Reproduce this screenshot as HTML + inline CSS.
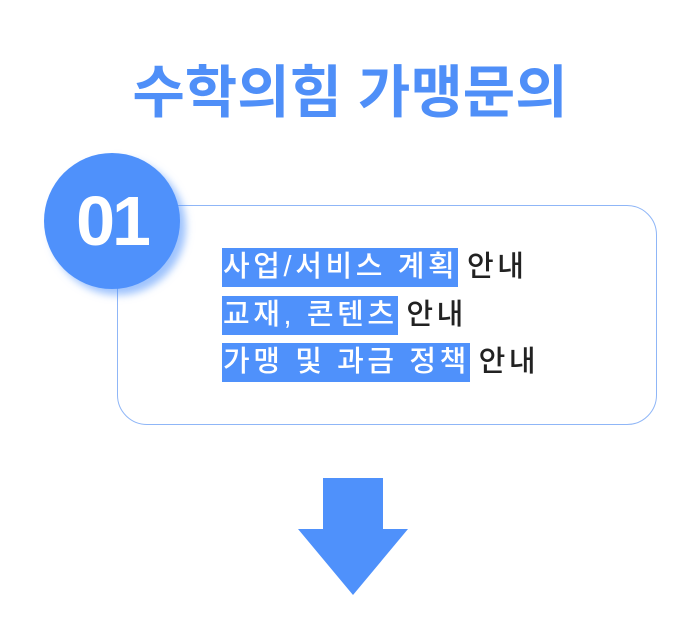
<!DOCTYPE html>
<html><head><meta charset="utf-8"><style>
body{margin:0;width:700px;height:637px;background:#fff;position:relative;overflow:hidden;font-family:"Liberation Sans","Noto Sans CJK KR",sans-serif}
.t{position:absolute;left:0;width:700px;top:56px;text-align:center;font-size:57px;font-weight:700;color:#4f8ff8;letter-spacing:0px;line-height:74px}
.box{position:absolute;left:117px;top:205px;width:538px;height:218px;border:1.3px solid #8fb6f7;border-radius:30px}
.c{position:absolute;left:44px;top:153px;width:136px;height:136px;border-radius:50%;background:#4f91fb;box-shadow:6px 6px 8px rgba(79,145,251,.55);color:#fff;font-weight:700;font-size:70px;text-align:center;line-height:136px;letter-spacing:-3px}
.l{position:absolute;left:222px;font-size:29px;font-weight:500;line-height:39px;white-space:nowrap;color:#222;letter-spacing:3.6px}
.h{background:#4f91fb;color:#fff;display:inline-block;padding:0 0 0 1px;margin-right:-3px}
</style></head><body>
<div class="t">수학의힘 가맹문의</div>
<div class="box"></div>
<div class="c">01</div>
<div class="l" style="top:248px"><span class="h">사업/서비스 계획</span> 안내</div>
<div class="l" style="top:296px"><span class="h">교재, 콘텐츠</span> 안내</div>
<div class="l" style="top:343px"><span class="h">가맹 및 과금 정책</span> 안내</div>
<svg style="position:absolute;left:0;top:0" width="700" height="637"><polygon points="323,478 383,478 383,529 408,529 353,595 298,529 323,529" fill="#4f91fb"/></svg>
</body></html>
